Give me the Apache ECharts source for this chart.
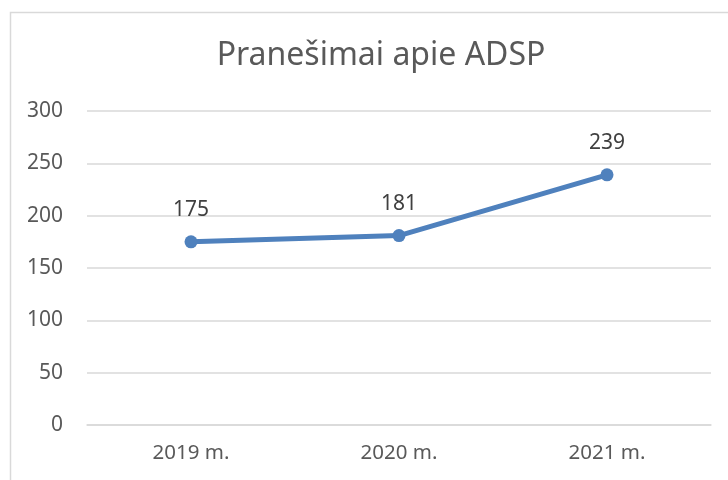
<!DOCTYPE html>
<html>
<head>
<meta charset="utf-8">
<script src="https://cdn.jsdelivr.net/npm/echarts@6/dist/echarts.min.js"></script>
<style>html,body{margin:0;padding:0;background:#fff}#c{width:728px;height:480px}</style>
</head>
<body>
<div id="c"></div>
<script>
const titleText = "Pranešimai apie ADSP";
const categories = ["2019 m.", "2020 m.", "2021 m."];
const values = [175, 181, 239];
const yTicks = [0, 50, 100, 150, 200, 250, 300];

const chart = echarts.init(document.getElementById('c'), null, {renderer: 'canvas'});
const font = "'Noto Sans', 'Open Sans', sans-serif";
chart.setOption({
  animation: false,
  backgroundColor: '#fff',
  graphic: [{
    type: 'rect', silent: true,
    shape: {x: 10.5, y: 12.5, width: 900, height: 700},
    style: {fill: 'none', stroke: '#d9d9d9', lineWidth: 1.5}
  }],
  title: {
    text: titleText, left: 376, top: 35, textAlign: 'center',
    textStyle: {fontFamily: font, fontSize: 32, fontWeight: 'normal', color: '#595959'}
  },
  grid: {left: 87, right: 17, top: 111, bottom: 55},
  xAxis: {
    type: 'category', data: categories, boundaryGap: true,
    axisLine: {show: true, lineStyle: {color: '#d9d9d9', width: 1.5}},
    axisTick: {show: false},
    axisLabel: {color: '#595959', fontFamily: font, fontSize: 20.5, margin: 18}
  },
  yAxis: {
    type: 'value', min: yTicks[0], max: yTicks[yTicks.length - 1], interval: 50,
    axisLine: {show: false}, axisTick: {show: false},
    splitLine: {lineStyle: {color: '#d9d9d9', width: 1.5}},
    axisLabel: {color: '#595959', fontFamily: font, fontSize: 21, margin: 24}
  },
  series: [{
    type: 'line', data: values,
    lineStyle: {color: '#4f81bd', width: 5},
    itemStyle: {color: '#4f81bd'},
    symbol: 'circle', symbolSize: 13,
    label: {show: true, position: 'top', distance: 15, color: '#404040', fontFamily: font, fontSize: 21}
  }]
});
</script>
</body>
</html>
